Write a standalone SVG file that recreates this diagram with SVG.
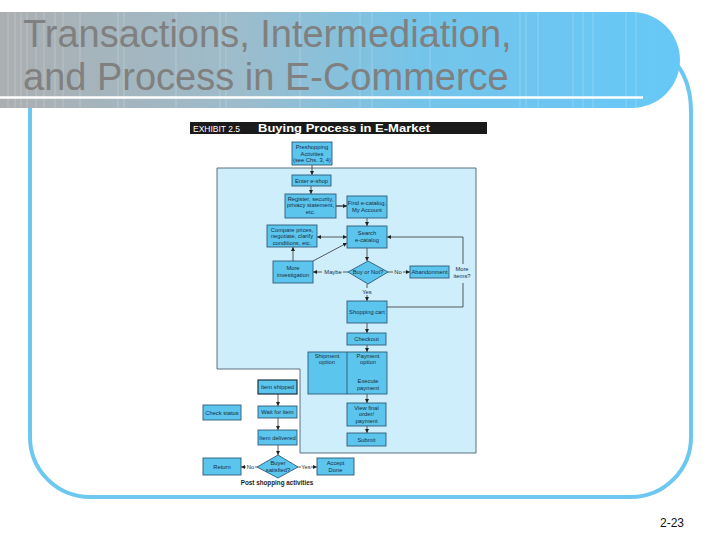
<svg xmlns="http://www.w3.org/2000/svg" width="728" height="546" viewBox="0 0 728 546">
<defs>
<linearGradient id="hdr" x1="0" y1="0" x2="1" y2="0">
<stop offset="0" stop-color="#abafb1"/>
<stop offset="0.35" stop-color="#9dbccb"/>
<stop offset="0.62" stop-color="#74c4ea"/>
<stop offset="1" stop-color="#66c8f7"/>
</linearGradient>
<marker id="ah" viewBox="0 0 6 6" refX="6" refY="3" markerWidth="4" markerHeight="4" markerUnits="userSpaceOnUse" orient="auto-start-reverse">
<path d="M0,0 L6,3 L0,6 Z" fill="#222"/>
</marker>
<style>
.box{fill:#5cc5ee;stroke:#2f5a78;stroke-width:0.9}
.t{font-family:"Liberation Sans",Arial,sans-serif;font-size:5.8px;fill:#1b2b3b;text-anchor:middle}
.c{fill:none;stroke:#333;stroke-width:0.8}
.a{fill:none;stroke:#333;stroke-width:0.8;marker-end:url(#ah)}
.title{font-family:"Liberation Sans",Arial,sans-serif;font-size:38px;fill:#808080}
.vl{stroke:#ffffff;stroke-opacity:0.28;stroke-width:0.8}
</style>
</defs>
<rect width="728" height="546" fill="#ffffff"/>
<g id="header">
<path d="M0,12 H632 A48,48 0 0 1 632,108 H0 Z" fill="url(#hdr)"/>
<g class="vl">
<line x1="8" y1="12" x2="8" y2="108"/><line x1="15" y1="12" x2="15" y2="108"/><line x1="21" y1="12" x2="21" y2="108"/>
<line x1="27" y1="12" x2="27" y2="108"/><line x1="36" y1="12" x2="36" y2="108"/><line x1="44" y1="12" x2="44" y2="108"/>
<line x1="55" y1="12" x2="55" y2="108"/><line x1="63" y1="12" x2="63" y2="108"/><line x1="80" y1="12" x2="80" y2="108"/>
<line x1="118" y1="12" x2="118" y2="108"/><line x1="124" y1="12" x2="124" y2="108"/><line x1="176" y1="12" x2="176" y2="108"/>
<line x1="220" y1="12" x2="220" y2="108"/><line x1="226" y1="12" x2="226" y2="108"/><line x1="300" y1="12" x2="300" y2="108"/>
<line x1="360" y1="12" x2="360" y2="108"/><line x1="372" y1="12" x2="372" y2="108"/><line x1="430" y1="12" x2="430" y2="108"/>
<line x1="520" y1="12" x2="520" y2="108"/><line x1="526" y1="12" x2="526" y2="108"/><line x1="538" y1="12" x2="538" y2="108"/>
<line x1="573" y1="12" x2="573" y2="108"/><line x1="583" y1="12" x2="583" y2="108"/><line x1="593" y1="12" x2="593" y2="108"/>
<line x1="626" y1="12" x2="626" y2="108"/><line x1="636" y1="12" x2="636" y2="108"/>
</g>
<line x1="0" y1="97.5" x2="643" y2="97.5" stroke="#ffffff" stroke-width="2.5"/>
<text class="title" x="23" y="47">Transactions, Intermediation,</text>
<text class="title" x="23" y="90">and Process in E-Commerce</text>
</g>
<g id="frame">
<path d="M678,66 Q691,84 691,112 L691,437 A60,60 0 0 1 631,497 L90,497 A60,60 0 0 1 30,437 L30,108" fill="none" stroke="#6cc8f0" stroke-width="4"/>
</g>
<text x="660" y="527" font-family="'Liberation Sans',Arial,sans-serif" font-size="12" fill="#111">2-23</text>

<g id="exhibit-title">
<rect x="190" y="122" width="297" height="12" fill="#1a1a1a"/>
<text x="193" y="131.8" font-family="'Liberation Sans',Arial,sans-serif" font-size="8.5" fill="#ffffff" textLength="47" lengthAdjust="spacingAndGlyphs">EXHIBIT 2.5</text>
<text x="258" y="132.3" font-family="'Liberation Sans',Arial,sans-serif" font-size="11.5" font-weight="bold" fill="#ffffff" textLength="172" lengthAdjust="spacingAndGlyphs">Buying Process in E-Market</text>
</g>

<g id="panel">
<path d="M217,168 H476 V453 H300 V369 H217 Z" fill="#cfeefc" stroke="#4a6272" stroke-width="0.9"/>
</g>

<g id="connectors">
<line class="a" x1="312" y1="165" x2="312" y2="175"/>
<line class="a" x1="311" y1="186" x2="311" y2="194"/>
<line class="a" x1="336" y1="206" x2="347" y2="206" style="stroke-width:1.3"/>
<line class="a" x1="367" y1="218" x2="367" y2="226"/>
<line class="a" x1="317" y1="237" x2="347" y2="237" style="marker-start:url(#ah)"/>
<line class="a" x1="293" y1="261" x2="293" y2="247"/>
<line class="a" x1="313" y1="261" x2="347" y2="243"/>
<line class="a" x1="367" y1="248" x2="367" y2="261"/>
<line class="c" x1="348" y1="272" x2="343" y2="272"/>
<line class="a" x1="322" y1="272" x2="313" y2="272"/>
<line class="c" x1="388" y1="272" x2="393" y2="272"/>
<line class="a" x1="403" y1="272" x2="410" y2="272"/>
<polyline class="c" points="387,307 463,307 463,283"/>
<polyline class="a" points="463,264 463,237 387,237"/>
<line class="c" x1="367" y1="284" x2="367" y2="288"/>
<line class="a" x1="367" y1="295" x2="367" y2="301"/>
<line class="a" x1="367" y1="323" x2="367" y2="333"/>
<line class="a" x1="367" y1="345" x2="367" y2="352"/>
<line class="a" x1="368" y1="366" x2="368" y2="376"/>
<line class="a" x1="367" y1="394" x2="367" y2="403"/>
<line class="a" x1="367" y1="426" x2="367" y2="433"/>
<line class="a" x1="278" y1="394" x2="278" y2="406"/>
<line class="a" x1="278" y1="418" x2="278" y2="430"/>
<line class="a" x1="278" y1="445" x2="278" y2="455"/>
<line class="c" x1="257" y1="467" x2="255" y2="467"/>
<line class="a" x1="246" y1="467" x2="241" y2="467"/>
<line class="c" x1="298" y1="467" x2="301" y2="467"/>
<line class="a" x1="311" y1="467" x2="317" y2="467"/>
<text class="t" x="333" y="274">Maybe</text>
<text class="t" x="398" y="274">No</text>
<text class="t" x="462" y="271">More</text>
<text class="t" x="462" y="278">items?</text>
<text class="t" x="367" y="293.5">Yes</text>
<text class="t" x="250.5" y="469">No</text>
<text class="t" x="306" y="469">Yes</text>
</g>

<g id="preshopping"><rect class="box" x="292" y="142" width="40" height="23"/>
<text class="t" x="312" y="149">Preshopping</text><text class="t" x="312" y="155.5">Activities</text><text class="t" x="312" y="162">(see Chs. 3, 4)</text></g>
<g id="enter-eshop"><rect class="box" x="292" y="175" width="39" height="11"/>
<text class="t" x="311.5" y="182.7">Enter e-shop</text></g>
<g id="register"><rect class="box" x="285" y="194" width="51" height="24"/>
<text class="t" x="310.5" y="200.5">Register, security,</text><text class="t" x="310.5" y="207">privacy statement,</text><text class="t" x="310.5" y="213.5">etc.</text></g>
<g id="find-ecatalog"><rect class="box" x="347" y="196" width="40" height="22"/>
<text class="t" x="367" y="205">Find e-catalog,</text><text class="t" x="367" y="212">My Account</text></g>
<g id="search"><rect class="box" x="347" y="226" width="40" height="22"/>
<text class="t" x="367" y="235">Search</text><text class="t" x="367" y="242">e-catalog</text></g>
<g id="compare"><rect class="box" x="267" y="225" width="50" height="22"/>
<text class="t" x="292" y="231.5">Compare prices,</text><text class="t" x="292" y="238">negotiate, clarify</text><text class="t" x="292" y="244.5">conditions, etc.</text></g>
<g id="more-investigation"><rect class="box" x="273" y="261" width="40" height="22"/>
<text class="t" x="293" y="270">More</text><text class="t" x="293" y="277">investigation</text></g>
<g id="buy-or-not"><polygon class="box" points="348,272 368,261 388,272 368,284"/>
<text class="t" x="368" y="274">Buy or Not?</text></g>
<g id="abandonment"><rect class="box" x="410" y="266" width="39" height="12"/>
<text class="t" x="429.5" y="274">Abandonment</text></g>
<g id="shopping-cart"><rect class="box" x="347" y="301" width="40" height="22"/>
<text class="t" x="367" y="314">Shopping cart</text></g>
<g id="checkout"><rect class="box" x="347" y="333" width="39" height="12"/>
<text class="t" x="366.5" y="341">Checkout</text></g>
<g id="shipment-payment"><rect class="box" x="308" y="352" width="79" height="42"/>
<line x1="347" y1="352" x2="347" y2="394" stroke="#2f5a78" stroke-width="0.9"/>
<text class="t" x="327" y="357.5">Shipment</text><text class="t" x="327" y="364">option</text>
<text class="t" x="368" y="357.5">Payment</text><text class="t" x="368" y="364">option</text>
<text class="t" x="368" y="383">Execute</text><text class="t" x="368" y="389.5">payment</text></g>
<g id="view-final"><rect class="box" x="347" y="403" width="39" height="23"/>
<text class="t" x="366.5" y="409.5">View final</text><text class="t" x="366.5" y="416">order/</text><text class="t" x="366.5" y="422.5">payment</text></g>
<g id="submit"><rect class="box" x="347" y="433" width="39" height="13"/>
<text class="t" x="366.5" y="441.5">Submit</text></g>
<g id="item-shipped"><rect class="box" x="258" y="380" width="39" height="14" style="stroke:#1a3040;stroke-width:1.2"/>
<text class="t" x="277.5" y="389">Item shipped</text></g>
<g id="wait-for-item"><rect class="box" x="258" y="406" width="39" height="12"/>
<text class="t" x="277.5" y="414">Wait for item</text></g>
<g id="check-status"><rect class="box" x="203" y="405" width="38" height="15"/>
<text class="t" x="222" y="414.5">Check status</text></g>
<g id="item-delivered"><rect class="box" x="258" y="430" width="39" height="15"/>
<text class="t" x="277.5" y="439.5">Item delivered</text></g>
<g id="buyer-satisfied"><polygon class="box" points="257,467 278,455 298,467 278,478"/>
<text class="t" x="278" y="465">Buyer</text><text class="t" x="278" y="471.5">satisfied?</text></g>
<g id="return"><rect class="box" x="203" y="458" width="38" height="17"/>
<text class="t" x="222" y="468.5">Return</text></g>
<g id="accept-done"><rect class="box" x="317" y="458" width="37" height="17"/>
<text class="t" x="335.5" y="464.5">Accept</text><text class="t" x="335.5" y="471.5">Done</text></g>
<text x="277" y="485" font-family="'Liberation Sans',Arial,sans-serif" font-size="6.3" font-weight="bold" fill="#1a1a1a" text-anchor="middle">Post shopping activities</text>
</svg>
